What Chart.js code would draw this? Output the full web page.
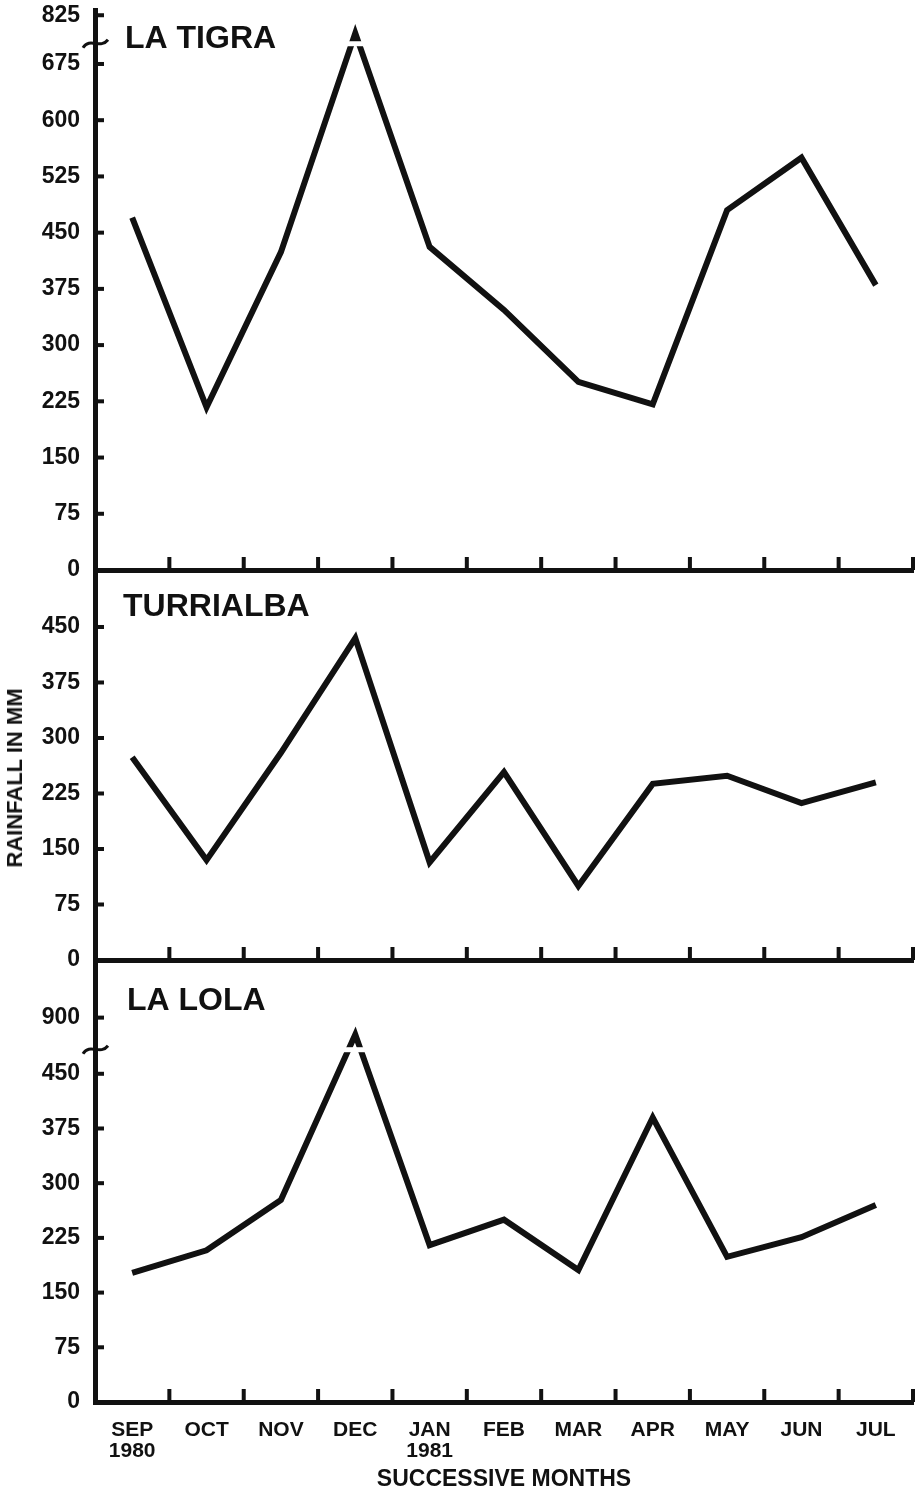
<!DOCTYPE html>
<html>
<head>
<meta charset="utf-8">
<script src="https://cdn.jsdelivr.net/npm/chart.js@4/dist/chart.umd.min.js"></script>
<style>
  body { margin: 0; background: #fff; width: 922px; height: 1492px; position: relative; overflow: hidden; }
  canvas { position: absolute; left: 0; }
  #yTitle {
    position: absolute; left: 15px; top: 778px;
    transform: translate(-50%, -50%) rotate(-90deg);
    font: bold 22px "Liberation Sans", Arial, sans-serif; color: #111; white-space: nowrap;
  }
</style>
</head>
<body>
<canvas id="tigra" width="922" height="580" style="top:0"></canvas>
<canvas id="turrialba" width="922" height="410" style="top:560px"></canvas>
<canvas id="lola" width="922" height="542" style="top:950px"></canvas>
<div id="yTitle">RAINFALL IN MM</div>

<script>
// meses (SEP 1980 - JUL 1981)
const months = [['SEP', '1980'], 'OCT', 'NOV', 'DEC', ['JAN', '1981'], 'FEB', 'MAR', 'APR', 'MAY', 'JUN', 'JUL'];

// chuva em mm
const laTigra   = [470, 217, 424, 770, 431, 347, 251, 221, 480, 550, 380];
const turrialba = [274, 135, 280, 435, 132, 254, 100, 238, 249, 212, 240];
const laLola    = [177, 208, 277, 765, 215, 250, 181, 390, 199, 226, 270];

// rótulos do eixo y
const laTigraTicks   = [0, 75, 150, 225, 300, 375, 450, 525, 600, 675, 825];
const turrialbaTicks = [0, 75, 150, 225, 300, 375, 450];
const laLolaTicks    = [0, 75, 150, 225, 300, 375, 450, 900];

const INK = '#111';

// eixo quebrado: acima de "low" a escala é comprimida
function makeBreak(low, high, highPos) {
  if (low == null) return v => v;
  const k = (highPos - low) / (high - low);
  return v => v <= low ? v : low + (v - low) * k;
}

const decor = {
  id: 'decor',
  afterDatasetsDraw(chart, args, opts) {
    const { ctx, chartArea, scales: { x, y } } = chart;
    ctx.save();
    ctx.fillStyle = INK;
    // marcas do eixo y (para dentro)
    y.ticks.forEach(t => {
      if (t.value === 0) return;
      const py = y.getPixelForValue(t.value);
      ctx.fillRect(chartArea.left, py - 2, 9, 4);
    });
    // marcas do eixo x (para cima)
    for (let i = 1; i <= x.ticks.length; i++) {
      const px = x.getPixelForValue(i - 0.5);
      ctx.fillRect(px - 2, chartArea.bottom - 13, 4, 13);
    }
    // quebra do eixo
    if (opts.breakPos != null) {
      const by = y.getPixelForValue(opts.breakPos);
      const px = x.getPixelForValue(opts.peakIndex);
      ctx.fillStyle = '#fff';
      ctx.fillRect(px - 25, by - 2.5, 50, 5);
      ctx.strokeStyle = INK;
      ctx.lineWidth = 3;
      const ax = chartArea.left;
      ctx.beginPath();
      ctx.moveTo(ax - 12, by + 4);
      ctx.bezierCurveTo(ax - 5, by - 7, ax + 5, by + 6, ax + 13, by - 4);
      ctx.stroke();
    }
    // nome da estação
    ctx.fillStyle = INK;
    ctx.font = 'bold 32px "Liberation Sans", Arial, sans-serif';
    ctx.textBaseline = 'middle';
    ctx.fillText(opts.name, chartArea.left + opts.nameDx, chartArea.top + opts.nameDy);
    ctx.restore();
  }
};

function makeChart(id, cfg) {
  const toPos = makeBreak(cfg.low, cfg.high, cfg.highPos);
  const tickPos = cfg.ticks.map(toPos);
  const isLast = !!cfg.showMonths;

  return new Chart(document.getElementById(id), {
    type: 'line',
    data: {
      labels: months,
      datasets: [{
        data: cfg.values.map(toPos),
        borderColor: INK,
        borderWidth: 6,
        borderJoinStyle: 'miter',
        borderCapStyle: 'butt',
        pointRadius: 0,
        tension: 0,
        fill: false
      }]
    },
    options: {
      responsive: false,
      animation: false,
      layout: { padding: { top: 10, right: 9, left: 0, bottom: 0 } },
      plugins: {
        legend: { display: false },
        tooltip: { enabled: false },
        decor: {
          name: cfg.name, nameDx: cfg.nameDx, nameDy: cfg.nameDy,
          breakPos: cfg.breakPos, peakIndex: 3
        }
      },
      scales: {
        x: {
          type: 'category',
          offset: true,
          grid: { display: false, drawTicks: false, offset: true },
          border: { display: true, width: 5, color: INK },
          ticks: {
            display: isLast,
            autoSkip: false,
            maxRotation: 0,
            padding: 18,
            color: INK,
            font: { family: '"Liberation Sans", Arial, sans-serif', size: 21, weight: 'bold', lineHeight: 1.0 }
          },
          title: {
            display: isLast,
            text: 'SUCCESSIVE MONTHS',
            color: INK,
            padding: { top: 0, bottom: 1 },
            font: { family: '"Liberation Sans", Arial, sans-serif', size: 23, weight: 'bold', lineHeight: 1.0 }
          },
          afterFit: s => { s.height = cfg.xHeight; }
        },
        y: {
          type: 'linear',
          min: 0,
          max: cfg.max,
          grid: { display: false, drawTicks: false },
          border: { display: true, width: 5, color: INK },
          ticks: {
            autoSkip: false,
            padding: 15,
            color: INK,
            font: { family: '"Liberation Sans", Arial, sans-serif', size: 23, weight: 'bold' },
            callback: (v, i) => String(cfg.ticks[i])
          },
          afterBuildTicks: s => { s.ticks = tickPos.map(v => ({ value: v })); },
          afterFit: s => {
            s.width = 95;
            s.paddingTop = 0;
            s.paddingBottom = 0;
          }
        }
      }
    },
    plugins: [decor]
  });
}

makeChart('tigra', {
  name: 'LA TIGRA', nameDx: 30, nameDy: 29,
  values: laTigra, ticks: laTigraTicks,
  low: 675, high: 825, highPos: 740, breakPos: 702,
  max: 747, xHeight: 10
});

makeChart('turrialba', {
  name: 'TURRIALBA', nameDx: 28, nameDy: 37,
  values: turrialba, ticks: turrialbaTicks,
  max: 527, xHeight: 10
});

makeChart('lola', {
  name: 'LA LOLA', nameDx: 32, nameDy: 41,
  values: laLola, ticks: laLolaTicks,
  low: 450, high: 900, highPos: 527, breakPos: 483,
  max: 606, xHeight: 90, showMonths: true
});
</script>
</body>
</html>
